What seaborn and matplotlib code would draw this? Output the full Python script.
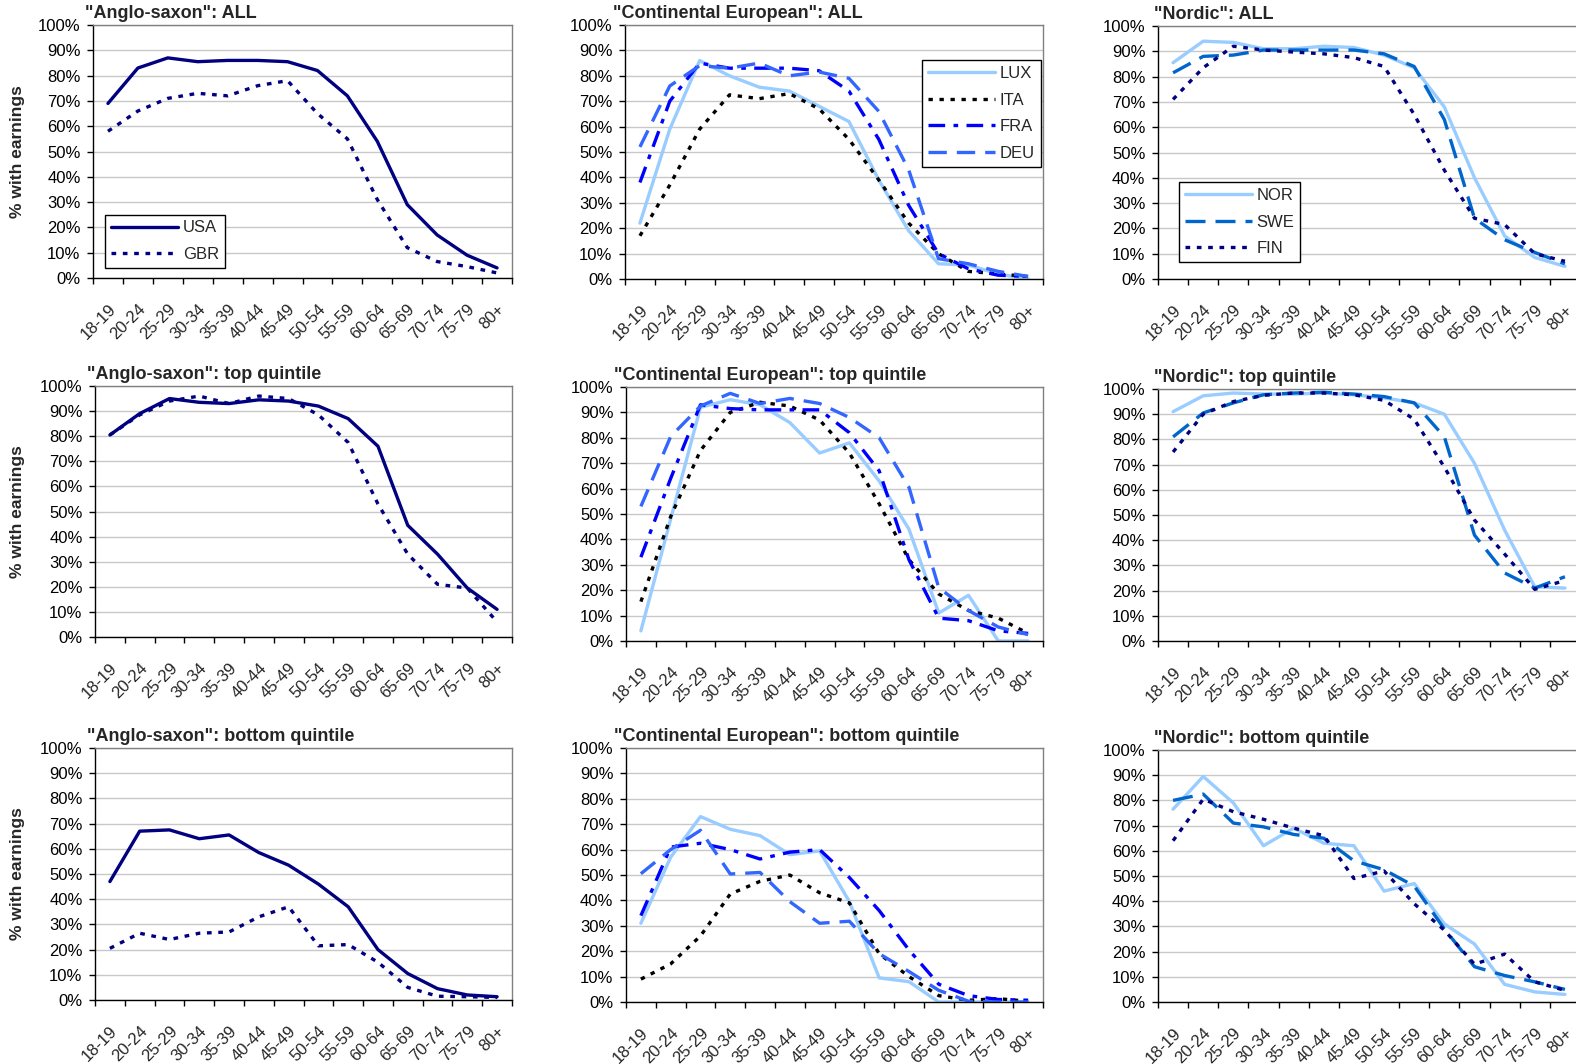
import numpy as np
import matplotlib
matplotlib.use("Agg")
import matplotlib.pyplot as plt
import matplotlib.transforms as mtransforms
from matplotlib.ticker import FuncFormatter, NullFormatter
import seaborn as sns

ages = ["18-19", "20-24", "25-29", "30-34", "35-39", "40-44", "45-49",
        "50-54", "55-59", "60-64", "65-69", "70-74", "75-79", "80+"]

# "Anglo-saxon"
usa_all = [69, 83, 87, 85.5, 86, 86, 85.5, 82, 72, 54, 29, 17, 9, 4]
gbr_all = [58, 66, 71, 73, 72, 76, 78, 65, 55, 31, 12, 6.5, 4.5, 2]
usa_top = [80.5, 89, 95, 93.5, 93, 94.5, 94, 92, 87, 76, 44.5, 33, 19.5, 11]
gbr_top = [80.5, 88.5, 94, 96, 93, 96, 95, 88.5, 77.5, 53, 33, 21, 19.5, 6]
usa_bot = [47, 67, 67.5, 64, 65.5, 58.5, 53.5, 46, 37, 20, 10.5, 4.5, 2, 1.3]
gbr_bot = [20.5, 26.5, 24, 26.5, 27, 33, 37, 21.5, 22, 15, 5, 1.5, 1.3, 1]

# "Continental European"
lux_all = [22, 59, 86, 80, 75.5, 74, 68, 62, 39, 19, 6, 5.5, 2, 0]
ita_all = [17, 37, 59, 72.5, 71, 73, 67, 55, 39, 22, 10, 3, 2, 1]
fra_all = [38, 70, 85, 83, 83, 83, 82, 74, 55, 29, 10, 4, 1.5, 1]
deu_all = [52, 76, 84, 83, 85, 80, 81.5, 79, 66, 43, 8, 6, 3, 1]
lux_top = [4, 48, 92, 95, 93, 86, 74, 78, 63, 44, 11, 18, 0, 0]
ita_top = [15.5, 49, 75, 90, 94, 92.5, 87, 74, 54, 32, 18.5, 12, 9, 3]
fra_top = [33, 64, 93, 91.5, 91, 91, 91, 82, 67, 32, 9, 8, 4, 3]
deu_top = [53, 80.5, 92.5, 97.5, 93.5, 95.5, 93.5, 88, 80, 60.5, 21, 12, 5.5, 2.5]
lux_bot = [31, 57, 73, 68, 65.5, 58, 59.5, 39.5, 9.5, 8, 0, 0, 0, 0]
ita_bot = [9, 15, 26, 42.5, 47.5, 50, 43, 39, 19, 10, 2.5, 0.7, 1.3, 0.3]
fra_bot = [34, 61, 62.5, 60, 56.3, 59, 60, 49, 36, 20.5, 7, 2.5, 1, 0.7]
deu_bot = [50.5, 60, 67.6, 50.4, 51, 39.5, 31, 31.8, 19, 12, 4.6, 0.3, 0, 0]

# "Nordic"
nor_all = [85.5, 94, 93.5, 91, 91, 92, 91.5, 88.5, 83.5, 68, 40, 17, 8.5, 5]
swe_all = [81.5, 88, 88.5, 90.5, 90.5, 90.5, 90.5, 89, 84, 63, 24, 15.5, 10.5, 6]
fin_all = [71, 83.5, 92, 90.5, 89.7, 89, 87.5, 84, 65, 43, 24, 21.5, 10, 7]
nor_top = [91, 97.3, 98.4, 98, 98, 98.4, 97.7, 96.5, 94.5, 90, 70.5, 44, 21.5, 21]
swe_top = [81, 90.5, 94.5, 97.7, 98.4, 98.7, 98, 97, 94.5, 81, 42, 27, 21, 25.5]
fin_top = [75, 90, 95, 97.5, 98.4, 98.4, 97.7, 95.5, 88, 69, 48, 34.5, 20.5, 24]
nor_bot = [76.5, 89.5, 79, 62, 69, 63, 62, 44, 47, 31, 23, 7, 4, 3]
swe_bot = [80, 82.5, 71, 69.5, 66.5, 65, 56, 52.5, 46, 29, 14, 10.5, 8, 5]
fin_bot = [64, 80.5, 75.5, 72.5, 69, 66, 49, 52, 39, 28.5, 15, 19, 8, 4.6]

sns.set_style("white")
plt.rcParams["font.family"] = ["Liberation Sans", "DejaVu Sans"]

NAVY = "#000080"
LIGHT = "#99CCFF"
styles = {
    "USA": (NAVY, "-"),
    "GBR": (NAVY, (0, (1.4, 2.0))),
    "LUX": (LIGHT, "-"),
    "ITA": ("black", (0, (1.3, 2.0))),
    "FRA": ("#0000FF", (0, (5, 2.5, 1.4, 2.5))),
    "DEU": ("#3366FF", (0, (5.5, 3))),
    "NOR": (LIGHT, "-"),
    "SWE": ("#0066CC", (0, (6, 3))),
    "FIN": (NAVY, (0, (1.4, 2.0))),
}

panels = [
    ('"Anglo-saxon": ALL', [("USA", usa_all), ("GBR", gbr_all)]),
    ('"Continental European": ALL', [("LUX", lux_all), ("ITA", ita_all), ("FRA", fra_all), ("DEU", deu_all)]),
    ('"Nordic": ALL', [("NOR", nor_all), ("SWE", swe_all), ("FIN", fin_all)]),
    ('"Anglo-saxon": top quintile', [("USA", usa_top), ("GBR", gbr_top)]),
    ('"Continental European": top quintile', [("LUX", lux_top), ("ITA", ita_top), ("FRA", fra_top), ("DEU", deu_top)]),
    ('"Nordic": top quintile', [("NOR", nor_top), ("SWE", swe_top), ("FIN", fin_top)]),
    ('"Anglo-saxon": bottom quintile', [("USA", usa_bot), ("GBR", gbr_bot)]),
    ('"Continental European": bottom quintile', [("LUX", lux_bot), ("ITA", ita_bot), ("FRA", fra_bot), ("DEU", deu_bot)]),
    ('"Nordic": bottom quintile', [("NOR", nor_bot), ("SWE", swe_bot), ("FIN", fin_bot)]),
]

# axes boxes in pixels: left, top, right, bottom
boxes = [(93, 25, 512, 278), (625, 25, 1043, 279), (1158, 26, 1580, 279),
         (95, 386, 512, 637), (626, 387, 1043, 641), (1158, 389, 1580, 641),
         (95, 748, 512, 1000), (626, 748, 1043, 1002), (1158, 750, 1580, 1002)]
title_dx = [-8, -12, -4]
legend_pos = {0: ("lower left", (0.029, 0.04)),
              1: ("upper right", (0.995, 0.862)),
              2: ("lower left", (0.05, 0.067))}

W, H = 1576, 1064
FS = 12
fig = plt.figure(figsize=(W / 100, H / 100), dpi=100)
x = np.arange(len(ages))
shift = mtransforms.ScaledTranslation(-0.07, 0, fig.dpi_scale_trans)

for i, ((title, series), (l, t, r, b)) in enumerate(zip(panels, boxes)):
    ax = fig.add_axes([l / W, 1 - b / H, (r - l) / W, (b - t) / H])
    for name, vals in series:
        color, ls = styles[name]
        sns.lineplot(x=x, y=vals, ax=ax, color=color, linestyle=ls, linewidth=2.4,
                     label=name, legend=False, solid_joinstyle="round")

    ax.set_xlim(-0.5, 13.5)
    ax.set_ylim(0, 100)
    ax.set_xlabel("")
    ax.set_ylabel("")
    ax.set_yticks(range(0, 101, 10))
    ax.yaxis.set_major_formatter(FuncFormatter(lambda v, p: f"{v:.0f}%"))
    ax.set_xticks(np.arange(-0.5, 14, 1))
    ax.xaxis.set_major_formatter(NullFormatter())
    ax.set_xticks(x, minor=True)
    ax.set_xticklabels(ages, minor=True, rotation=45, ha="right", va="top",
                       rotation_mode="anchor", fontsize=FS)
    for lab in ax.get_xticklabels(minor=True):
        lab.set_transform(lab.get_transform() + shift)
    ax.tick_params(axis="x", which="major", bottom=True, length=4, width=1, color="black")
    ax.tick_params(axis="x", which="minor", bottom=True, length=0, pad=17)
    ax.tick_params(axis="y", left=True, length=4, width=1, color="black", pad=5,
                   labelsize=FS, labelcolor="black")

    ax.grid(axis="y", color="#C8C8C8", linewidth=1)
    ax.set_axisbelow(True)
    for side in ["left", "bottom"]:
        ax.spines[side].set_color("black")
        ax.spines[side].set_linewidth(1)
    for side in ["top", "right"]:
        ax.spines[side].set_color("#808080")
        ax.spines[side].set_linewidth(1)

    ax.annotate(title, xy=(0, 1), xycoords="axes fraction",
                xytext=(title_dx[i % 3], 3), textcoords="offset pixels",
                ha="left", va="bottom", fontsize=13, fontweight="bold")

    if i in legend_pos:
        loc, anchor = legend_pos[i]
        leg = ax.legend(loc=loc, bbox_to_anchor=anchor, borderaxespad=0,
                        fontsize=FS, handlelength=4.0, handletextpad=0.3,
                        labelspacing=0.7, borderpad=0.35, fancybox=False,
                        framealpha=1, edgecolor="black")
        leg.get_frame().set_linewidth(1)

    if i % 3 == 0:
        fig.text(18 / W, 1 - ((t + b) / 2) / H, "% with earnings", rotation=90,
                 ha="center", va="center", fontsize=12.5, fontweight="bold")

fig.savefig("out.png", dpi=100)
